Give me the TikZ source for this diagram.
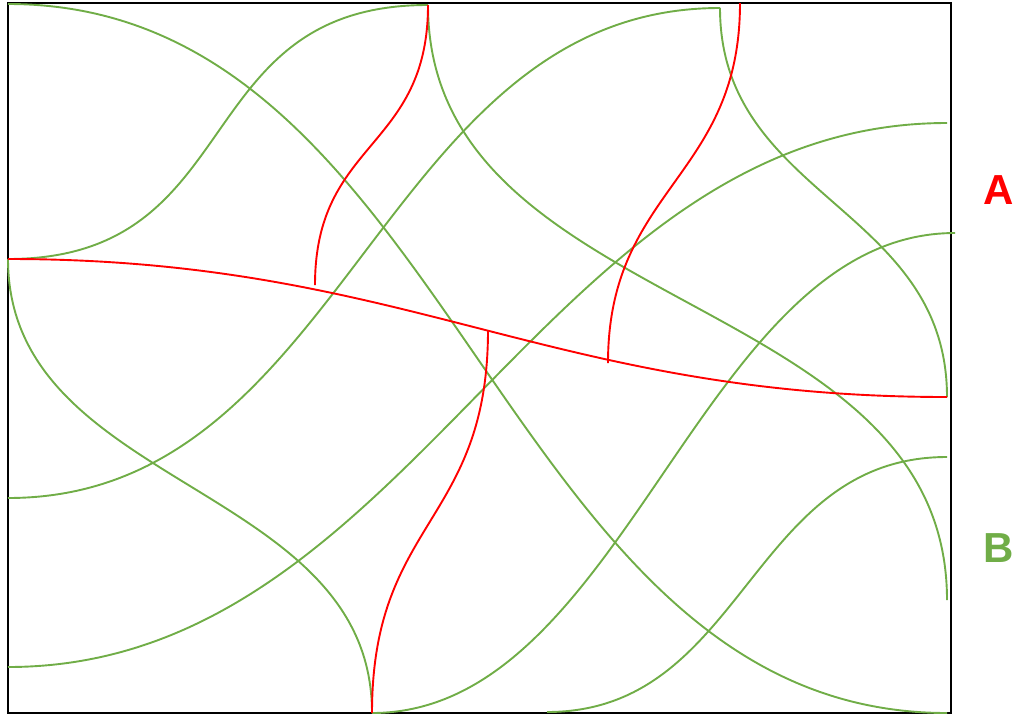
\documentclass[tikz,border=0pt]{standalone}
\usepackage{fontspec}
\setmainfont{Liberation Sans}
\definecolor{ogreen}{HTML}{70AD47}
\definecolor{ored}{HTML}{FF0000}
\begin{document}
\begin{tikzpicture}[x=1pt,y=-1pt,
  gline/.style={draw=ogreen, line width=1.9pt},
  rline/.style={draw=ored, line width=1.9pt},
  lbl/.style={font=\bfseries\fontsize{42}{42}\selectfont, inner sep=0pt}]
\useasboundingbox (0,0) rectangle (1019,718);
\draw[line width=2.2pt] (8,3) rectangle (951,713);
% end points
\coordinate (L0) at (8,4);
\coordinate (L1) at (8,259);
\coordinate (L2) at (8,498);
\coordinate (L3) at (8,667);
\coordinate (T1) at (428,5);
\coordinate (T2) at (720,8);
\coordinate (T3) at (740,3);
\coordinate (R1) at (947,123);
\coordinate (R2) at (955,233);
\coordinate (R3) at (947,397);
\coordinate (R4) at (947,457);
\coordinate (R5) at (947,600);
\coordinate (R6) at (947,713);
\coordinate (B1) at (372,713);
\coordinate (B2) at (547,712);
\coordinate (J1) at (315,285);
\coordinate (J2) at (488,330);
\coordinate (J3) at (608,363);
% green curves
\draw[gline] (L0) .. controls (458,4) and (497,713) .. (R6);
\draw[gline] (L1) .. controls (250,259) and (186,5) .. (T1);
\draw[gline] (L1) .. controls (8,490) and (372,482) .. (B1);
\draw[gline] (L2) .. controls (348,498) and (380,8) .. (T2);
\draw[gline] (L3) .. controls (414,667) and (541,123) .. (R1);
\draw[gline] (T1) .. controls (428,318) and (947,287) .. (R5);
\draw[gline] (T2) .. controls (720,198) and (947,207) .. (R3);
\draw[gline] (B1) .. controls (627,713) and (700,233) .. (R2);
\draw[gline] (B2) .. controls (745,712) and (749,457) .. (R4);
% red curves
\draw[rline] (L1) .. controls (408,259) and (547,397) .. (R3);
\draw[rline] (J1) .. controls (315,140) and (428,150) .. (T1);
\draw[rline] (J3) .. controls (608,188) and (740,178) .. (T3);
\draw[rline] (J2) .. controls (488,523) and (372,520) .. (B1);
% labels
\node[lbl, text=ored] (A) at (999,190) {A};
\node[lbl, text=ogreen] (B) at (999,548) {B};
\end{tikzpicture}
\end{document}
